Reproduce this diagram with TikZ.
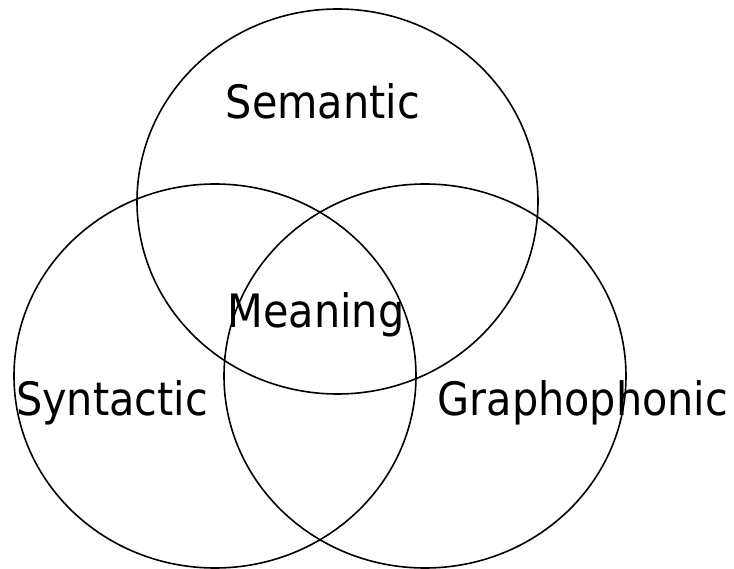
\documentclass[tikz,border=0pt]{standalone}
\usepackage{fontspec}
\usepackage{tikz}
\newfontfamily\cuefont{DejaVu Sans Condensed}
\tikzset{
  ring/.style={draw=black, line width=1.6pt},
  cue/.style={font=\fontsize{46}{54}\selectfont\cuefont, anchor=base, inner sep=0pt}
}

\begin{document}
\begin{tikzpicture}[x=1pt, y=-1pt]
  \useasboundingbox (0,0) rectangle (734,569);
  % three cueing systems
  \draw[ring] (337.5,201.5) ellipse [x radius=200.5, y radius=192.5];
  \draw[ring] (215,376) ellipse [x radius=201, y radius=192];
  \draw[ring] (425,376) ellipse [x radius=201, y radius=192];
  % labels
  \node[cue] (semantic) at (323,119) {Semantic};
  \node[cue] (meaning) at (316,328) {Meaning};
  \node[cue] (syntactic) at (112,416) {Syntactic};
  \node[cue] (grapho) at (583,416) {Graphophonic};
\end{tikzpicture}
\end{document}
